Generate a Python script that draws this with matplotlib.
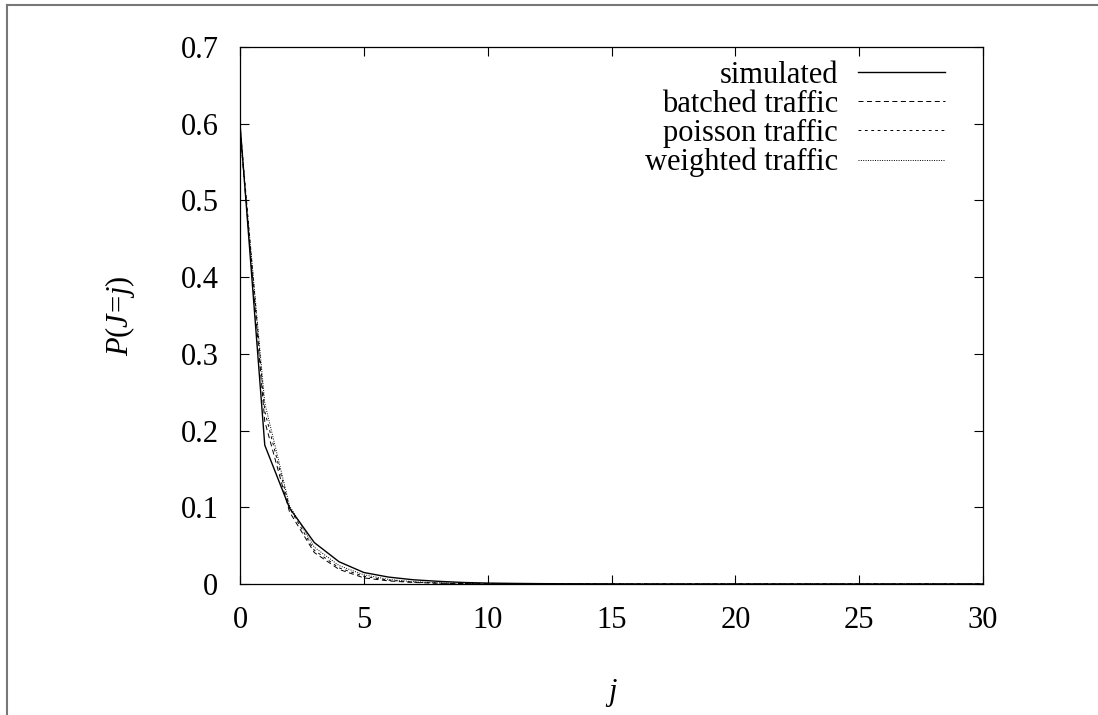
import matplotlib
matplotlib.use('Agg')
import matplotlib.pyplot as plt
from matplotlib.lines import Line2D

plt.rcParams['font.family'] = ['Liberation Serif', 'DejaVu Serif']
plt.rcParams['mathtext.fontset'] = 'custom'
plt.rcParams['mathtext.rm'] = 'Liberation Serif'
plt.rcParams['mathtext.it'] = 'Liberation Serif:italic'
plt.rcParams['lines.scale_dashes'] = False

j = list(range(31))
simulated = [0.600, 0.181, 0.099, 0.054, 0.029, 0.015, 0.009, 0.0055, 0.0035, 0.002,
             0.0012, 0.0008, 0.0005, 0.0003, 0.0002, 0.0001] + [0.0] * 15
batched = [0.592, 0.212, 0.094, 0.041, 0.019, 0.008, 0.004, 0.002, 0.001, 0.0005,
           0.0002, 0.0001] + [0.0] * 19
poisson = [0.598, 0.225, 0.099, 0.044, 0.021, 0.010, 0.005, 0.0025, 0.0012, 0.0006,
           0.0003, 0.0001] + [0.0] * 19
weighted = [0.590, 0.236, 0.102, 0.048, 0.024, 0.012, 0.006, 0.003, 0.0015, 0.0007,
            0.0003, 0.0002, 0.0001] + [0.0] * 18

fig = plt.figure(figsize=(10.98, 7.15), dpi=100)
ax = fig.add_axes([240 / 1098, 1 - 584 / 715, 743 / 1098, 537 / 715])

ax.plot(j, simulated, color='black', lw=1.0, label='simulated')
ax.plot(j, batched, color='black', lw=0.7, dashes=(3.6, 2.5), label='batched traffic')
ax.plot(j, poisson, color='black', lw=0.7, dashes=(2.0, 2.6), label='poisson traffic')
ax.plot(j, weighted, color='black', lw=0.7, dashes=(0.7, 1.0), label='weighted traffic')

ax.set_xlim(0, 30)
ax.set_ylim(0, 0.7)
ax.set_xticks(range(0, 31, 5))
ax.set_yticks([i / 10 for i in range(8)])
ax.set_yticklabels(['0', '0.1', '0.2', '0.3', '0.4', '0.5', '0.6', '0.7'])
ax.tick_params(direction='in', length=6.5, width=0.8, top=True, right=True,
               labelsize=22)
ax.tick_params(axis='x', pad=16)
ax.tick_params(axis='y', pad=15.5)
for s in ax.spines.values():
    s.set_linewidth(0.9)

ax.set_xlabel(r'$j$', fontsize=22, labelpad=30)
ax.set_ylabel(r'$P(J\!=\!j)$', fontsize=22, labelpad=31)

pad_px = 0.45 * 30.6
leg = ax.legend(loc='upper right', bbox_to_anchor=((945 + pad_px - 240) / 743, 1.0),
                frameon=False, markerfirst=False, fontsize=22, handlelength=2.85,
                handletextpad=0.65, labelspacing=0.0, borderaxespad=0.45, borderpad=0.0)

# gnuplot page frame (left and top edges)
fig.add_artist(Line2D([7 / 1098, 7 / 1098], [0, 1 - 5 / 715], color='#777777', lw=1.5))
fig.add_artist(Line2D([7 / 1098, 1], [1 - 5 / 715, 1 - 5 / 715], color='#777777', lw=1.5))

fig.savefig('out.png', dpi=100)
